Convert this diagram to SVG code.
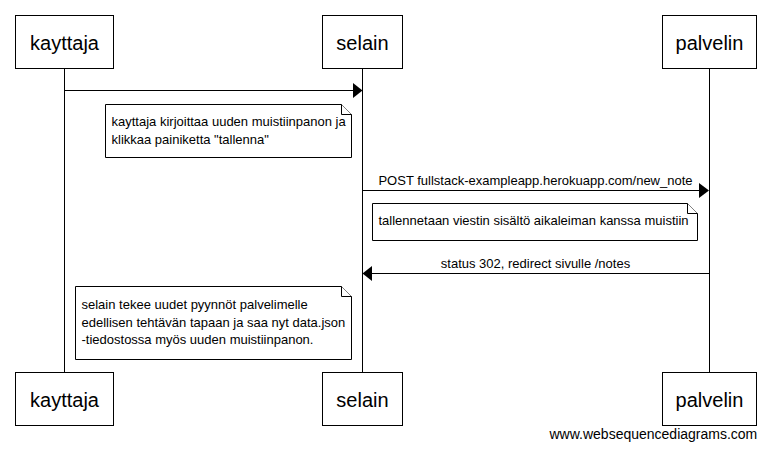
<svg xmlns="http://www.w3.org/2000/svg" width="769" height="450" viewBox="0 0 769 450">
<style>
  text { font-family: "Liberation Sans", Arial, sans-serif; fill: #000; }
  .box { fill: #fff; stroke: #000; stroke-width: 1; }
  .life { stroke: #000; stroke-width: 1; fill: none; }
  .msg { stroke: #000; stroke-width: 1; fill: none; }
  .head { fill: #000; stroke: none; }
  .title { font-size: 20px; text-anchor: middle; }
  .lbl { font-size: 13px; text-anchor: middle; }
  .note { fill: #fff; stroke: #000; stroke-width: 1; }
  .ntext { font-size: 13px; }
  .wm { font-size: 14px; }
</style>
<rect width="769" height="450" fill="#fff"/>

<g id="lifelines">
  <line class="life" x1="64.5" y1="68" x2="64.5" y2="372"/>
  <line class="life" x1="362.5" y1="68" x2="362.5" y2="372"/>
  <line class="life" x1="709.5" y1="68" x2="709.5" y2="372"/>
</g>

<g id="kayttaja">
  <rect class="box" x="15.5" y="15.5" width="98" height="53"/>
  <text class="title" x="64.5" y="49.5">kayttaja</text>
  <rect class="box" x="15.5" y="372.5" width="98" height="53"/>
  <text class="title" x="64.5" y="406.5">kayttaja</text>
</g>

<g id="selain">
  <rect class="box" x="322.5" y="15.5" width="80" height="53"/>
  <text class="title" x="362.5" y="49.5">selain</text>
  <rect class="box" x="322.5" y="372.5" width="80" height="53"/>
  <text class="title" x="362.5" y="406.5">selain</text>
</g>

<g id="palvelin">
  <rect class="box" x="662.5" y="15.5" width="94" height="53"/>
  <text class="title" x="709.5" y="49.5">palvelin</text>
  <rect class="box" x="662.5" y="372.5" width="94" height="53"/>
  <text class="title" x="709.5" y="406.5">palvelin</text>
</g>

<g id="connectors">
  <line class="msg" x1="64.5" y1="90.5" x2="354" y2="90.5"/>
  <polygon class="head" points="353,83 362.5,90.5 353,98"/>

  <line class="msg" x1="362.5" y1="190.5" x2="700" y2="190.5"/>
  <polygon class="head" points="699,183 709,190.5 699,198"/>
  <text class="lbl" x="535.5" y="185">POST fullstack-exampleapp.herokuapp.com/new_note</text>

  <line class="msg" x1="709.5" y1="273.5" x2="371" y2="273.5"/>
  <polygon class="head" points="372,266 362.5,273.5 372,281"/>
  <text class="lbl" x="535.5" y="268">status 302, redirect sivulle /notes</text>
</g>

<g id="note1">
  <path class="note" d="M105.5,104.5 H341.5 L351.5,114.5 V157.5 H105.5 Z"/>
  <path class="note" d="M341.5,104.5 V114.5 H351.5" fill="none"/>
  <text class="ntext" x="111.5" y="126">kayttaja kirjoittaa uuden muistiinpanon ja</text>
  <text class="ntext" x="111.5" y="144">klikkaa painiketta "tallenna"</text>
</g>

<g id="note2">
  <path class="note" d="M372.5,203.5 H687.5 L697.5,213.5 V240.5 H372.5 Z"/>
  <path class="note" d="M687.5,203.5 V213.5 H697.5" fill="none"/>
  <text class="ntext" x="378.5" y="225">tallennetaan viestin sisältö aikaleiman kanssa muistiin</text>
</g>

<g id="note3">
  <path class="note" d="M75.5,286.5 H341.5 L351.5,296.5 V359.5 H75.5 Z"/>
  <path class="note" d="M341.5,286.5 V296.5 H351.5" fill="none"/>
  <text class="ntext" x="81.5" y="308.5">selain tekee uudet pyynnöt palvelimelle</text>
  <text class="ntext" x="81.5" y="326.5">edellisen tehtävän tapaan ja saa nyt data.json</text>
  <text class="ntext" x="81.5" y="344">-tiedostossa myös uuden muistiinpanon.</text>
</g>

<text class="wm" x="549.5" y="438.5">www.websequencediagrams.com</text>
</svg>
